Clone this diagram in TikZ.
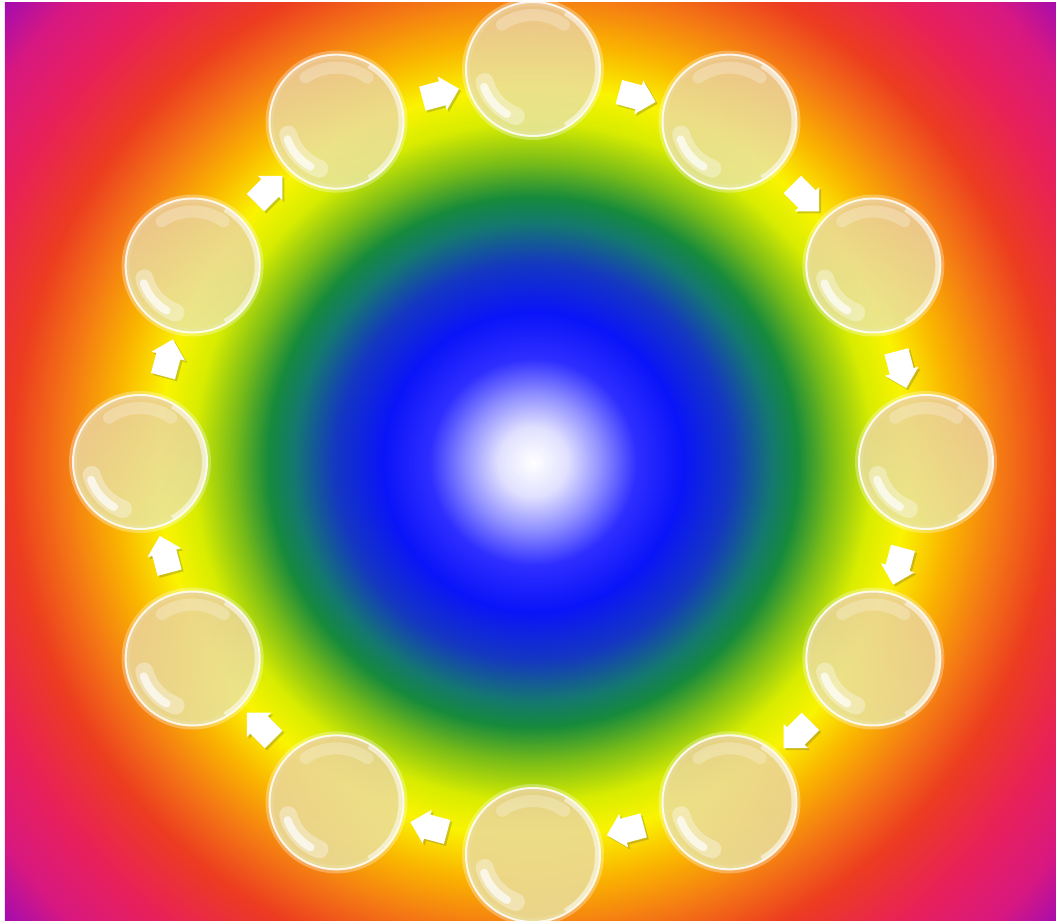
\documentclass[tikz,border=0pt]{standalone}
\usepackage{tikz}
\usetikzlibrary{calc, shapes.arrows, shadows}

\definecolor{bubtop}{HTML}{EBCFA2}
\definecolor{bubbot}{HTML}{E8E6A6}

\pgfdeclareradialshading{rainbow}{\pgfpoint{0bp}{0bp}}{%
  color(0bp)=(white);
  color(1.2bp)=(white!88!blue);
  color(2.4bp)=(white!55!blue);
  color(3.6bp)=(white!18!blue);
  color(5.2bp)=(rgb,255:red,10;green,20;blue,248);
  color(6.9bp)=(rgb,255:red,20;green,56;blue,192);
  color(8.3bp)=(rgb,255:red,20;green,120;blue,112);
  color(9.2bp)=(rgb,255:red,22;green,138;blue,60);
  color(10.4bp)=(rgb,255:red,120;green,188;blue,24);
  color(11.8bp)=(rgb,255:red,216;green,236;blue,0);
  color(13bp)=(rgb,255:red,250;green,244;blue,0);
  color(14.6bp)=(rgb,255:red,250;green,180;blue,0);
  color(16.3bp)=(rgb,255:red,244;green,120;blue,20);
  color(18.1bp)=(rgb,255:red,236;green,60;blue,32);
  color(20.5bp)=(rgb,255:red,232;green,32;blue,90);
  color(22.6bp)=(rgb,255:red,216;green,24;blue,128);
  color(24.3bp)=(rgb,255:red,164;green,12;blue,176);
  color(25bp)=(rgb,255:red,156;green,8;blue,184);
  color(50bp)=(rgb,255:red,156;green,8;blue,184)}

\begin{document}
\begin{tikzpicture}[
    x=0.5pt, y=0.5pt,
    bubble/.style={circle,inner sep=0pt,minimum size=67pt,
                   draw=white,line width=1pt,draw opacity=0.85,
                   top color=bubtop,bottom color=bubbot,fill opacity=0.82,
                   preaction={draw=white,line width=4pt,opacity=0.3},
                   path picture={
                     \draw[white,line width=9pt,line cap=round,opacity=0.35]
                       ([shift={(195:25pt)}]path picture bounding box.center)
                       arc[start angle=195,end angle=250,radius=25pt];
                     \draw[white,line width=4pt,line cap=round,opacity=0.7]
                       ([shift={(200:26pt)}]path picture bounding box.center)
                       arc[start angle=200,end angle=240,radius=26pt];
                     \draw[white,line width=6pt,line cap=round,opacity=0.25]
                       ([shift={(55:27pt)}]path picture bounding box.center)
                       arc[start angle=55,end angle=125,radius=27pt];
                     \draw[white,line width=2pt,opacity=0.5]
                       ([shift={(-60:32pt)}]path picture bounding box.center)
                       arc[start angle=-60,end angle=60,radius=32pt];
                   }},
    flow/.style={single arrow,fill=white,draw=none,inner xsep=0pt,
                 inner ysep=6pt,minimum height=19pt,
                 single arrow head extend=2.5pt,
                 drop shadow={shadow xshift=1pt,shadow yshift=-1pt,
                              opacity=0.25,fill=black!70}}
]
% background
\useasboundingbox (-533,-459) rectangle (523,462);
\fill[white] (-533,-459) rectangle (523,462);
\begin{scope}
  \clip (-528,-459) rectangle (523,459);
  \shade[shading=rainbow] (0,0) circle (720);
\end{scope}

% bubbles, clockwise from the top
\node[bubble] (b1)  at (90:393)  {};
\node[bubble] (b2)  at (60:393)  {};
\node[bubble] (b3)  at (30:393)  {};
\node[bubble] (b4)  at (0:393)   {};
\node[bubble] (b5)  at (-30:393) {};
\node[bubble] (b6)  at (-60:393) {};
\node[bubble] (b7)  at (-90:393) {};
\node[bubble] (b8)  at (-120:393) {};
\node[bubble] (b9)  at (-150:393) {};
\node[bubble] (b10) at (180:393) {};
\node[bubble] (b11) at (150:393) {};
\node[bubble] (b12) at (120:393) {};

% arrows between them
\node[flow,rotate=-15]  (a1)  at ($(b1)!0.5!(b2)$)   {};
\node[flow,rotate=-45]  (a2)  at ($(b2)!0.5!(b3)$)   {};
\node[flow,rotate=-75]  (a3)  at ($(b3)!0.5!(b4)$)   {};
\node[flow,rotate=-105] (a4)  at ($(b4)!0.5!(b5)$)   {};
\node[flow,rotate=-135] (a5)  at ($(b5)!0.5!(b6)$)   {};
\node[flow,rotate=-165] (a6)  at ($(b6)!0.5!(b7)$)   {};
\node[flow,rotate=165]  (a7)  at ($(b7)!0.5!(b8)$)   {};
\node[flow,rotate=135]  (a8)  at ($(b8)!0.5!(b9)$)   {};
\node[flow,rotate=105]  (a9)  at ($(b9)!0.5!(b10)$)  {};
\node[flow,rotate=75]   (a10) at ($(b10)!0.5!(b11)$) {};
\node[flow,rotate=45]   (a11) at ($(b11)!0.5!(b12)$) {};
\node[flow,rotate=15]   (a12) at ($(b12)!0.5!(b1)$)  {};
\end{tikzpicture}
\end{document}
